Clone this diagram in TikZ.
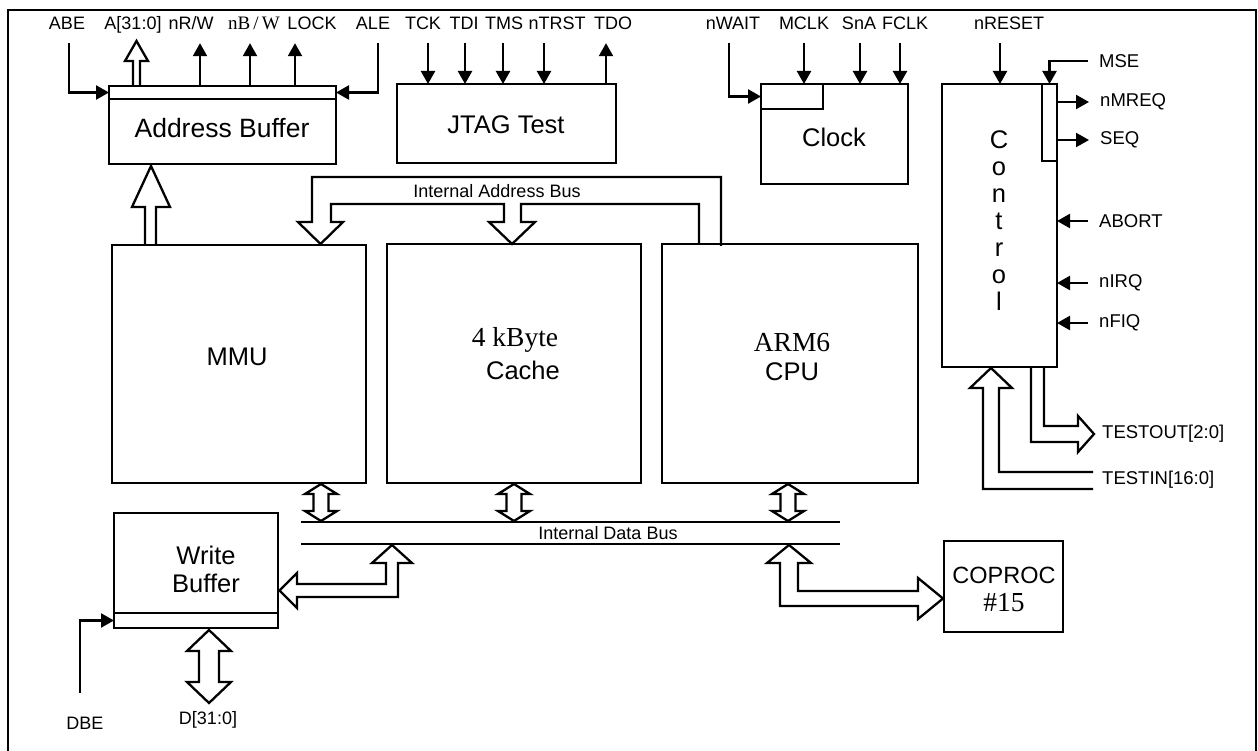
\documentclass[tikz,border=0pt]{standalone}
\usepackage{fontspec}
\setmainfont{Liberation Sans}
\newfontfamily\seriffont{Liberation Serif}
\usetikzlibrary{arrows.meta,fit}
\begin{document}
\begin{tikzpicture}[x=1pt,y=-1pt,line join=miter,
  box/.style={draw,line width=2.3pt,inner sep=0pt,outer sep=0pt},
  sm/.style={font=\fontsize{18}{21}\selectfont},
  big/.style={font=\fontsize{25.5}{30}\selectfont,align=center,inner sep=0pt},
  bigserif/.style={font=\fontsize{27.5}{30}\seriffont,align=center,inner sep=0pt},
  toplbl/.style={sm,anchor=base,inner xsep=0pt,inner ysep=13pt,text depth=0pt},
  rlbl/.style={font=\fontsize{18.5}{21}\selectfont,anchor=west,inner xsep=11pt,inner ysep=0pt},
  sig/.style={line width=2.3pt},
  tip/.style={-{Triangle[length=13pt,width=14pt]}},
  hollow/.style={line width=2.3pt,line join=miter},
  hollowf/.style={line width=2.3pt,line join=miter,fill=white}]
\useasboundingbox (0,0) rectangle (1258,751);
% border
\draw[sig] (8,751) -- (8,10) -- (1256,10) -- (1256,751);

% blocks
\node[box,fit={(109,86)(336,164)}] (ab) {};
\node[box,fit={(109,86)(336,99)}] (abs) {};
\node[big,font=\fontsize{26.5}{30}\selectfont] at (222,128) {Address Buffer};

\node[box,fit={(397,84)(616,163)}] (jtag) {};
\node[big] at (506,125) {JTAG Test};

\node[box,fit={(761,84)(908,184)}] (clk) {};
\node[box,fit={(761,84)(823,109)}] (clkr) {};
\node[big] at (834,137) {Clock};

\node[box,fit={(942,84)(1057,367)}] (ctrl) {};
\node[box,fit={(1042,84)(1057,161)}] (ctrlr) {};
\node[font=\fontsize{25.5}{27}\selectfont,align=center,inner sep=0pt] at (999,221) {C\\o\\n\\t\\r\\o\\l};

\node[box,fit={(112,245)(366,483)}] (mmu) {};
\node[big] at (237,357) {MMU};
\node[box,fit={(387,244)(641,483)}] (cache) {};
\node[bigserif] at (515,340) {4 kByte};
\node[big] at (523,370) {Cache};
\node[box,fit={(662,244)(918,483)}] (cpu) {};
\node[bigserif] at (792,343) {ARM6};
\node[big] at (792,372) {CPU};

\node[box,fit={(114,513)(278,628)}] (wb) {};
\node[box,fit={(114,613)(278,628)}] (wbs) {};
\node[big] at (206,555) {Write};
\node[big] at (206,583) {Buffer};

\node[box,fit={(944,541)(1063,632)}] (cop) {};
\node[big,font=\fontsize{23.5}{28}\selectfont] at (1004,575) {COPROC};
\node[bigserif] at (1004,603) {\#15};

% top labels
\node[toplbl] (abe) at (67,30) {ABE};
\node[toplbl] (a) at (133,30) {A[31:0]};
\node[toplbl] (nrw) at (191,30) {nR/W};
\node[toplbl,font=\fontsize{19}{21}\seriffont] (nbw) at (254,30) {nB\,/\,W};
\node[toplbl] (lock) at (312,30) {LOCK};
\node[toplbl] (ale) at (373,30) {ALE};
\node[toplbl] (tck) at (423,30) {TCK};
\node[toplbl] (tdi) at (464,30) {TDI};
\node[toplbl] (tms) at (504,30) {TMS};
\node[toplbl] (ntrst) at (557,30) {nTRST};
\node[toplbl] (tdo) at (613,30) {TDO};
\node[toplbl] (nwait) at (733,30) {nWAIT};
\node[toplbl] (mclk) at (804,30) {MCLK};
\node[toplbl] (sna) at (859,30) {SnA};
\node[toplbl] (fclk) at (905,30) {FCLK};
\node[toplbl] (nreset) at (1009,30) {nRESET};

% right labels
\node[rlbl] (mse) at (1088,61) {MSE};
\node[rlbl] (nmreq) at (1089,102) {nMREQ};
\node[rlbl] (seq) at (1089,140) {SEQ};
\node[rlbl] (abort) at (1088,221) {ABORT};
\node[rlbl] (nirq) at (1088,283) {nIRQ};
\node[rlbl] (nfiq) at (1088,323) {nFIQ};
\node[rlbl,inner xsep=0pt] (tout) at (1102,434) {TESTOUT[2:0]};
\node[rlbl,inner xsep=0pt] (tin) at (1102,480) {TESTIN[16:0]};

% bottom labels
\node[sm] (dbe) at (85,723) {DBE};
\node[sm] (d) at (208,720) {D[31:0]};
\node[sm] (iab) at (497,191) {Internal Address Bus};
\node[sm] (idb) at (608,533) {Internal Data Bus};
\coordinate (dbeend) at (80,693);

% address buffer signals
\draw[sig,tip] ([xshift=2pt]abe.south) |- (abs.west);
\draw[sig,tip] ([xshift=5pt]ale.south) |- (abs.east);
\draw[sig,tip] ([xshift=9pt]nrw.south |- abs.north) -- ([xshift=9pt]nrw.south);
\draw[sig,tip] ([xshift=-4pt]nbw.south |- abs.north) -- ([xshift=-4pt]nbw.south);
\draw[sig,tip] ([xshift=-17pt]lock.south |- abs.north) -- ([xshift=-17pt]lock.south);
\draw[hollow] (133,86) -- (133,61) -- (125,61) -- (136.5,41) -- (148,61) -- (140,61) -- (140,86);

% JTAG signals
\draw[sig,tip] ([xshift=5pt]tck.south) -- ([xshift=5pt]tck.south |- jtag.north);
\draw[sig,tip] ([xshift=1pt]tdi.south) -- ([xshift=1pt]tdi.south |- jtag.north);
\draw[sig,tip] ([xshift=-1pt]tms.south) -- ([xshift=-1pt]tms.south |- jtag.north);
\draw[sig,tip] ([xshift=-13pt]ntrst.south) -- ([xshift=-13pt]ntrst.south |- jtag.north);
\draw[sig,tip] ([xshift=-7pt]tdo.south |- jtag.north) -- ([xshift=-7pt]tdo.south);

% clock signals
\draw[sig,tip] ([xshift=-4pt]nwait.south) |- (clkr.west);
\draw[sig,tip] (mclk.south) -- (mclk.south |- clk.north);
\draw[sig,tip] ([xshift=1pt]sna.south) -- ([xshift=1pt]sna.south |- clk.north);
\draw[sig,tip] ([xshift=-5pt]fclk.south) -- ([xshift=-5pt]fclk.south |- clk.north);

% control signals
\draw[sig,tip] ([xshift=-9pt]nreset.south) -- ([xshift=-9pt]nreset.south |- ctrl.north);
\draw[sig,tip] (mse.west) -| (ctrlr.north);
\draw[sig,tip] (ctrlr.east |- nmreq.west) -- (nmreq.west);
\draw[sig,tip] (ctrlr.east |- seq.west) -- (seq.west);
\draw[sig,tip] (abort.west) -- (abort.west -| ctrl.east);
\draw[sig,tip] (nirq.west) -- (nirq.west -| ctrl.east);
\draw[sig,tip] (nfiq.west) -- (nfiq.west -| ctrl.east);
\draw[hollow] (1044,367) -- (1044,426) -- (1078,426) -- (1078,416) -- (1094,434) -- (1078,452) -- (1078,442) -- (1031,442) -- (1031,367);
\draw[hollow] (1093,472) -- (999,472) -- (999,388) -- (1012,388) -- (991,368) -- (970,388) -- (983,388) -- (983,489) -- (1093,489);

% MMU -> address buffer
\draw[hollow] (145,245) -- (145,207) -- (132,207) -- (151,166) -- (170,207) -- (156,207) -- (156,245);

% internal address bus
\draw[hollow] (721,246) -- (721,177) -- (312,177) -- (312,222) -- (298,222) -- (320.5,244) -- (343,222) -- (331,222) -- (331,204) -- (504,204) -- (504,222) -- (489,222) -- (512,244) -- (535,222) -- (521,222) -- (521,204) -- (699,204) -- (699,245);

% internal data bus
\draw[sig] (301,522) -- (840,522);
\draw[sig] (301,544) -- (840,544);
\foreach \cx in {321,514,788}
  \draw[hollowf] (\cx,484) -- (\cx+16,494) -- (\cx+7.5,494) -- (\cx+7.5,511) -- (\cx+16,511) -- (\cx,521) -- (\cx-16,511) -- (\cx-7.5,511) -- (\cx-7.5,494) -- (\cx-16,494) -- cycle;

% write buffer link
\draw[hollowf] (392,545) -- (412,563) -- (398,563) -- (398,597) -- (297,597) -- (297,608) -- (279.5,590.5) -- (297,573) -- (297,584) -- (386,584) -- (386,563) -- (372,563) -- cycle;
% coprocessor link
\draw[hollowf] (789,545) -- (811,563) -- (798,563) -- (798,591) -- (918,591) -- (918,578) -- (943,598.5) -- (918,619) -- (918,606) -- (780,606) -- (780,563) -- (767,563) -- cycle;
% external data bus
\draw[hollowf] (209,630) -- (231,651) -- (219,651) -- (219,682) -- (231,682) -- (209,703) -- (187,682) -- (199,682) -- (199,651) -- (187,651) -- cycle;
% DBE
\draw[sig,tip] (dbeend) |- (wbs.west);
\end{tikzpicture}
\end{document}
